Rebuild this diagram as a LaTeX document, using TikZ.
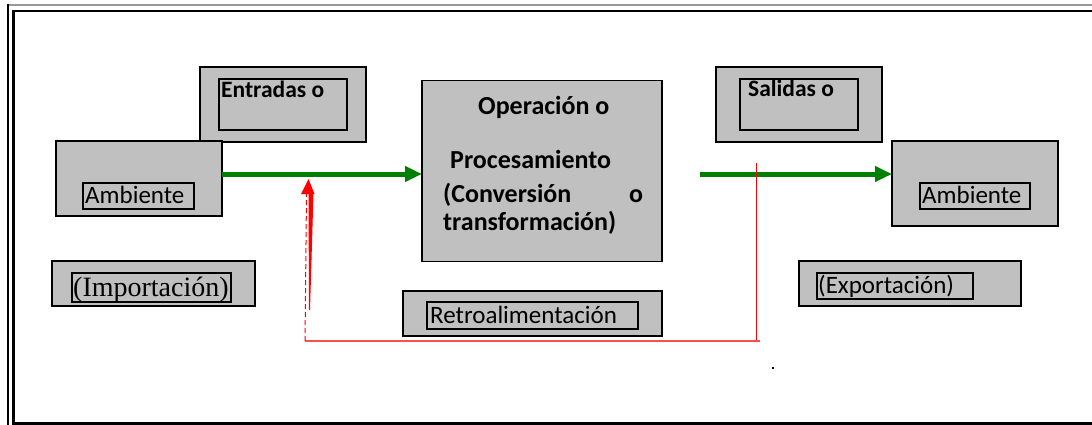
\documentclass[tikz,border=0pt]{standalone}
\usepackage{fontspec}
\setmainfont{Carlito}
\newfontfamily\tnr{Liberation Serif}
\usetikzlibrary{arrows.meta}
\definecolor{boxgray}{HTML}{C0C0C0}
\definecolor{arrowgreen}{HTML}{008000}
\definecolor{fbred}{HTML}{FF0000}
\definecolor{fblight}{HTML}{FF5050}
\begin{document}
\begin{tikzpicture}[x=1pt,y=-1pt,
  outerbox/.style={draw=black,line width=1.8pt,fill=boxgray,inner sep=0pt,outer sep=0pt},
  innerbox/.style={draw=black,line width=1.5pt,inner sep=0pt,outer sep=0pt},
  txt/.style={inner sep=0pt,anchor=base west,font=\fontsize{25}{28}\selectfont},
  btxt/.style={inner sep=0pt,anchor=base west,font=\fontsize{23.5}{28}\selectfont\bfseries},
  optxt/.style={inner sep=0pt,anchor=base west,font=\fontsize{26}{30}\selectfont\bfseries},
  garrow/.style={draw=arrowgreen,line width=5pt,-{Triangle[length=17pt,width=15pt]}},
]
\useasboundingbox (0,0) rectangle (1092,425);
\fill[white] (0,0) rectangle (1092,425);
% frame
\draw[gray!80, line width=2pt] (7,5) -- (1092,5);
\draw[black, line width=2.5pt] (8,4) -- (8,425);
\draw[black, line width=2.5pt] (1092,11) -- (13.5,11) -- (13.5,423.5) -- (1092,423.5);

% Entradas
\node[outerbox, minimum width=166pt, minimum height=75pt] (entO) at (283,104.5) {};
\node[innerbox, minimum width=128pt, minimum height=51pt] (entI) at (283,104.5) {};
\node[btxt] (entT) at (221,98) {Entradas o};

% Ambiente left
\node[outerbox, minimum width=166pt, minimum height=75pt] (amb1) at (139,178.5) {};
\node[innerbox, minimum width=111pt, minimum height=26pt] (amb1I) at (138.5,196) {};
\node[txt] (amb1T) at (85,203) {Ambiente};

% Operacion
\node[outerbox, minimum width=240pt, minimum height=181pt] (op) at (542,171) {};
\node[optxt] (opT1) at (478,115) {Operación o};
\node[optxt] (opT2) at (450,168) {Procesamiento};
\node[optxt] (opT3) at (443,202) {(Conversión};
\node[optxt] (opT3b) at (629,202) {o};
\node[optxt] (opT4) at (443,230) {transformación)};

% Salidas
\node[outerbox, minimum width=166pt, minimum height=75pt] (salO) at (799,104.5) {};
\node[innerbox, minimum width=118pt, minimum height=51pt] (salI) at (799,104.5) {};
\node[btxt] (salT) at (748,97) {Salidas o};

% Ambiente right
\node[outerbox, minimum width=166pt, minimum height=85pt] (amb2) at (975,183.5) {};
\node[innerbox, minimum width=110pt, minimum height=26pt] (amb2I) at (975,196) {};
\node[txt] (amb2T) at (922,203) {Ambiente};

% Importacion
\node[outerbox, minimum width=203pt, minimum height=45pt] (impO) at (153.5,283.5) {};
\node[innerbox, minimum width=159pt, minimum height=29pt] (impI) at (151.5,287.5) {};
\node[inner sep=0pt, anchor=base west, font=\tnr\fontsize{28}{32}\selectfont] (impT) at (73,296) {(Importación)};

% Retroalimentacion
\node[outerbox, minimum width=259pt, minimum height=45pt] (retO) at (532.5,313.5) {};
\node[innerbox, minimum width=211pt, minimum height=27pt] (retI) at (532.5,315.5) {};
\node[txt] (retT) at (430,323) {Retroalimentación};

% Exportacion
\node[outerbox, minimum width=222pt, minimum height=45pt] (expO) at (910,283.5) {};
\node[innerbox, minimum width=156pt, minimum height=26pt] (expI) at (895,286) {};
\node[txt] (expT) at (818,293) {(Exportación)};

% green arrows
\coordinate (g2s) at (700,174);
\draw[garrow] (amb1.east |- 0,174) -- (op.west |- 0,174);
\draw[garrow] (g2s) -- (amb2.west |- 0,174);

% feedback
\coordinate (fbTop) at (756.5,163);
\coordinate (fbBR) at (756.5,341);
\coordinate (fbBL) at (305,341);
\coordinate (fbTip) at (308.5,179);
\draw[fbred, line width=1.8pt] (fbTop) -- (fbBR);
\draw[fblight, line width=1.6pt] (760,341) -- (fbBL);
\draw[fbred, line width=1pt, dash pattern=on 5pt off 3pt] (fbBL) -- (306.5,194);
\fill[fbred] (308.5,193) -- (313.5,193) -- (310,310) -- (309,310) -- cycle;
\fill[fbred] (fbTip) -- (314.5,194) -- (301,194) -- cycle;
\fill[black] (772,367) rectangle ++(1.5,1.5);
\end{tikzpicture}
\end{document}
